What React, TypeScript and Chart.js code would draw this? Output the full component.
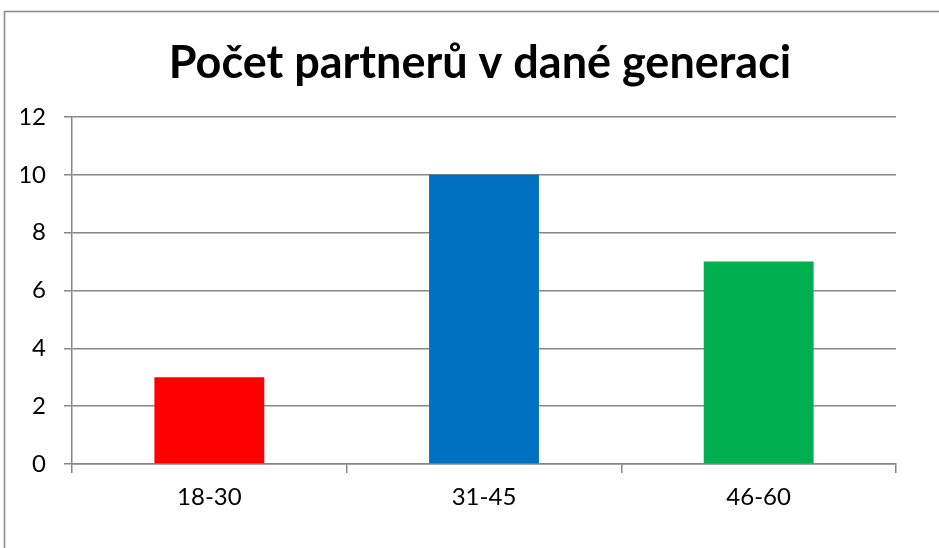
import React, { useEffect, useRef } from "react";
import { Chart, registerables } from "chart.js";

Chart.register(...registerables);

const TITLE = "Počet partnerů v dané generaci";
const categories = ["18-30", "31-45", "46-60"];
const values = [3, 10, 7];
const barColors = ["#FF0000", "#0070C0", "#00B050"];
const yMin = 0;
const yMax = 12;
const yStep = 2;

const FONT = "Lato, 'Open Sans', sans-serif";
const GRID = "#868686";

const framePlugin = {
  id: "frame",
  beforeDraw(chart: any) {
    const ctx = chart.ctx;
    ctx.save();
    ctx.fillStyle = "#ffffff";
    ctx.fillRect(0, 0, chart.width, chart.height);
    ctx.strokeStyle = "#888888";
    ctx.lineWidth = 1.5;
    ctx.strokeRect(4.5, 11.5, chart.width + 20, chart.height + 20);
    ctx.restore();
  },
};

export default function App() {
  const ref = useRef<HTMLCanvasElement | null>(null);
  useEffect(() => {
    if (!ref.current) return;
    const chart = new Chart(ref.current, {
      type: "bar",
      data: {
        labels: categories,
        datasets: [
          {
            data: values,
            backgroundColor: barColors,
            borderWidth: 0,
            barPercentage: 0.4,
            categoryPercentage: 1,
          },
        ],
      },
      options: {
        responsive: false,
        animation: false,
        layout: { padding: { left: 21, right: 0, top: 0, bottom: 0 } },
        plugins: {
          legend: { display: false },
          tooltip: { enabled: false },
          title: {
            display: true,
            text: TITLE,
            color: "#000000",
            font: { family: FONT, size: 45, weight: "bold", lineHeight: 1.2 },
            padding: { top: 36, bottom: 27 },
          },
        },
        scales: {
          x: {
            offset: true,
            grid: {
              offset: true,
              drawOnChartArea: false,
              drawTicks: true,
              tickLength: 9,
              color: GRID,
              lineWidth: 1.5,
            },
            border: { display: true, color: GRID, width: 1.5 },
            ticks: {
              color: "#000000",
              font: { family: FONT, size: 24 },
              padding: 10,
              maxRotation: 0,
            },
            afterFit(scale: any) {
              scale.height = 84;
            },
          },
          y: {
            min: yMin,
            max: yMax,
            ticks: {
              stepSize: yStep,
              color: "#000000",
              font: { family: FONT, size: 24 },
              padding: 18,
            },
            grid: {
              color: GRID,
              lineWidth: 1.5,
              drawTicks: true,
              tickLength: 8,
            },
            border: { display: true, color: GRID, width: 1.5 },
            afterFit(scale: any) {
              scale.width = 51;
            },
          },
          yRight: {
            type: "linear",
            position: "right",
            display: true,
            ticks: { display: false },
            grid: { display: false, drawTicks: false },
            border: { display: false },
            afterFit(scale: any) {
              scale.width = 43;
            },
          },
        },
      },
      plugins: [framePlugin],
    });
    return () => chart.destroy();
  }, []);
  return (
    <div style={{ position: "fixed", left: 0, top: 0, width: 939, height: 548, background: "#fff" }}>
      <canvas ref={ref} width={939} height={548} style={{ display: "block" }} />
    </div>
  );
}
